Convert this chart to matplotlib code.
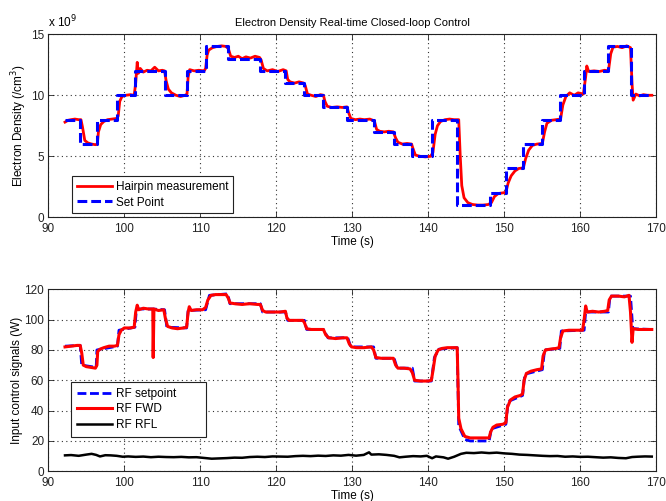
import matplotlib
matplotlib.use("Agg")
import matplotlib.pyplot as plt

plt.rcParams['font.family'] = ['Liberation Sans', 'DejaVu Sans']

# ---- Electron density (units of 1e9 /cm^3) ----
setpoint_t = [92.2, 94.2, 94.2, 96.4, 96.4, 99.1, 99.1, 101.4, 101.4, 105.3, 105.3, 108.2, 108.2,
              110.7, 110.7, 113.6, 113.6, 117.9, 117.9, 121.2, 121.2, 123.7, 123.7, 126.2, 126.2,
              129.3, 129.3, 132.8, 132.8, 135.5, 135.5, 137.8, 137.8, 140.5, 140.5, 143.8, 143.8,
              148.1, 148.1, 150.2, 150.2, 152.4, 152.4, 155.0, 155.0, 157.3, 157.3, 160.5, 160.5,
              163.7, 163.7, 166.7, 166.7, 169.4]
setpoint_v = [8, 8, 6, 6, 8, 8, 10, 10, 12, 12, 10, 10, 12,
              12, 14, 14, 13, 13, 12, 12, 11, 11, 10, 10, 9,
              9, 8, 8, 7, 7, 6, 6, 5, 5, 8, 8, 1,
              1, 2, 2, 4, 4, 6, 6, 8, 8, 10, 10, 12,
              12, 14, 14, 10, 10]

hairpin_t = [92.2, 92.6, 93.0, 93.5, 94.0, 94.3, 94.5, 94.8, 95.2, 95.7, 96.2, 96.45, 96.6, 96.9,
             97.3, 97.8, 98.4, 99.0, 99.2, 99.4, 99.7, 100.2, 100.8, 101.3, 101.5, 101.7, 101.85,
             102.1, 102.5, 103.0, 103.5, 104.0, 104.5, 105.0, 105.3, 105.5, 105.8, 106.2, 106.8,
             107.4, 108.0, 108.25, 108.4, 108.6, 109.2, 109.8, 110.5, 110.7, 110.9, 111.1, 111.6,
             112.2, 112.8, 113.4, 113.7, 114.0, 114.5, 115.0, 115.5, 116.0, 116.6, 117.2, 117.8,
             118.0, 118.3, 118.8, 119.5, 120.2, 120.9, 121.3, 121.5, 121.8, 122.4, 123.0, 123.6,
             123.8, 124.1, 124.6, 125.2, 125.8, 126.2, 126.4, 126.7, 127.3, 128.0, 128.7, 129.3,
             129.5, 129.8, 130.4, 131.0, 131.6, 132.3, 132.9, 133.2, 133.6, 134.2, 134.8, 135.4,
             135.7, 136.0, 136.6, 137.2, 137.8, 138.0, 138.3, 138.9, 139.6, 140.3, 140.6, 140.9,
             141.2, 141.6, 142.2, 142.8, 143.4, 144.0, 144.2, 144.4, 144.7, 145.2, 145.8, 146.5,
             147.2, 147.9, 148.3, 148.7, 149.2, 149.8, 150.2, 150.5, 150.9, 151.4, 151.9, 152.5,
             152.8, 153.2, 153.7, 154.3, 155.0, 155.3, 155.6, 156.2, 156.8, 157.4, 157.7, 158.1,
             158.6, 159.2, 159.7, 160.4, 160.7, 160.85, 161.1, 161.8, 162.5, 163.2, 163.7, 164.0,
             164.3, 164.9, 165.5, 166.1, 166.6, 166.8, 166.95, 167.3, 167.8, 168.3, 168.8, 169.4]
hairpin_v = [7.8, 7.95, 8.0, 8.05, 8.0, 8.0, 7.4, 6.3, 6.1, 6.0, 5.95, 6.0, 7.0, 7.6,
             7.85, 8.0, 8.05, 8.1, 8.3, 9.5, 9.9, 10.0, 10.05, 10.0, 11.0, 12.7, 11.8,
             12.2, 11.9, 12.05, 12.0, 12.3, 12.0, 12.05, 12.0, 11.2, 10.5, 10.2, 10.0,
             9.9, 10.0, 10.1, 11.5, 12.1, 12.0, 12.05, 12.0, 12.2, 13.3, 13.7, 13.9,
             14.0, 14.05, 14.0, 13.8, 13.2, 13.1, 13.2, 13.0, 13.15, 13.05, 13.2, 13.1,
             12.9, 12.2, 12.0, 12.1, 11.95, 12.1, 12.0, 11.3, 11.1, 11.0, 11.1, 11.0,
             10.8, 10.1, 10.0, 9.9, 10.05, 10.0, 9.5, 9.1, 9.0, 9.05, 9.0, 9.05,
             8.6, 8.1, 8.0, 8.05, 8.0, 8.05, 7.9, 7.2, 7.05, 7.0, 7.05, 7.0,
             6.5, 6.15, 6.0, 6.05, 6.0, 5.6, 5.1, 5.0, 4.95, 5.0, 5.3, 6.8,
             7.5, 7.85, 8.0, 8.05, 8.0, 8.0, 5.0, 2.6, 1.6, 1.2, 1.05, 1.0,
             1.0, 1.05, 1.2, 1.7, 1.95, 2.0, 2.05, 2.8, 3.4, 3.8, 4.0, 4.05,
             4.8, 5.5, 5.9, 6.0, 6.05, 7.0, 7.7, 7.95, 8.0, 8.05, 9.2, 9.9,
             10.2, 10.0, 10.2, 10.1, 11.5, 12.4, 11.95, 12.0, 11.95, 12.05, 12.0, 13.4,
             13.95, 14.0, 13.9, 14.05, 13.9, 11.0, 9.6, 10.1, 9.95, 10.05, 10.0, 10.0]

# ---- RF input signals (W) ----
rf_set_t = [92.2, 94.2, 94.4, 96.3, 96.4, 99.1, 99.3, 101.4, 101.6, 103.7, 105.3, 105.6, 108.2,
            108.4, 110.7, 111.2, 113.6, 113.9, 117.9, 118.2, 121.2, 121.5, 123.7, 124.0, 126.2,
            126.8, 129.4, 129.8, 132.8, 133.1, 135.5, 135.9, 137.9, 138.2, 140.4, 140.8, 141.4,
            143.8, 144.0, 144.8, 145.5, 148.0, 148.3, 150.2, 150.5, 152.4, 152.7, 155.0, 155.3,
            157.3, 157.5, 160.5, 160.7, 163.7, 163.9, 166.6, 166.9, 169.4]
rf_set_v = [82.5, 83, 70, 68.5, 80, 82.5, 93, 95, 107, 107, 106.5, 95, 94.5,
            106, 106.5, 116, 117, 110.5, 110.5, 105, 105, 99.5, 99.5, 93.5, 93.5,
            88, 88, 82, 82, 74.5, 74.5, 68, 68, 59.5, 59.5, 75, 80.5,
            81.5, 30, 21, 20, 20, 28, 31, 46, 50, 64, 67, 80,
            81, 92.5, 93, 105, 105, 115.5, 115.5, 94, 93.5]

rf_fwd_t = [92.2, 93.0, 93.8, 94.2, 94.4, 94.6, 95.0, 95.6, 96.2, 96.4, 96.5, 96.8, 97.3, 98.0,
            98.7, 99.1, 99.3, 99.6, 100.0, 100.8, 101.3, 101.5, 101.7, 101.9, 102.5, 103.2,
            103.75, 103.8, 103.9, 104.5, 105.2, 105.4, 105.7, 106.3, 107.0, 107.8, 108.2, 108.4,
            108.55, 108.8, 109.5, 110.3, 110.7, 111.0, 111.4, 112.0, 112.8, 113.4, 113.7, 113.9,
            114.5, 115.5, 116.5, 117.5, 117.9, 118.2, 118.6, 119.5, 120.5, 121.2, 121.4, 121.7,
            122.5, 123.5, 123.7, 124.0, 124.6, 125.5, 126.2, 126.5, 126.9, 127.8, 128.7, 129.3,
            129.6, 129.9, 130.6, 131.5, 132.5, 132.8, 133.1, 133.8, 134.7, 135.4, 135.7, 136.0,
            136.8, 137.6, 137.9, 138.2, 139.0, 140.0, 140.4, 140.6, 140.9, 141.3, 141.8, 142.5,
            143.2, 143.8, 143.9, 144.0, 144.3, 144.8, 145.5, 146.5, 147.5, 148.0, 148.2, 148.5,
            149.0, 149.8, 150.2, 150.4, 150.8, 151.4, 152.1, 152.4, 152.6, 152.9, 153.5, 154.3,
            154.9, 155.1, 155.4, 156.0, 156.8, 157.2, 157.4, 157.7, 158.5, 159.3, 160.3, 160.5,
            160.7, 160.9, 161.6, 162.4, 163.2, 163.6, 163.8, 164.1, 165.0, 165.8, 166.4, 166.6,
            166.8, 166.95, 167.6, 168.4, 169.4]
rf_fwd_v = [82, 82.5, 83, 83, 78, 70, 69, 68.5, 68, 70, 79, 80.5, 81.5, 82.5,
            82.5, 83, 90, 93, 94.5, 94.5, 95, 105, 109.5, 106.5, 107.5, 107,
            107, 75, 107, 106, 106.5, 101, 95.5, 94.5, 94, 94.5, 95, 105,
            108.5, 106, 106.5, 106.5, 108, 113, 116, 116.5, 116.5, 116.5, 114, 111,
            110.5, 110, 110.5, 110, 110, 106, 105, 105, 105, 105.5, 101, 99.5,
            99.5, 99.5, 98, 94, 93.5, 93.5, 93.5, 90, 88, 87.5, 88, 88,
            84, 82, 81.5, 81.5, 82, 80, 75, 74.5, 74.5, 74.5, 70, 68,
            68, 67.5, 65, 60, 59.5, 59.5, 60, 66, 76, 80, 81, 81.5,
            81.5, 81.5, 60, 35, 28, 23, 22, 22, 22, 22, 26, 29,
            30.5, 31, 32, 42, 47, 49, 50, 51, 60, 64.5, 66, 67,
            67.5, 76, 80, 80.5, 81, 81.5, 88, 92.5, 93, 93, 93, 100,
            109, 105, 105.5, 105, 105.5, 106, 113, 115.5, 115.5, 115, 116, 105,
            85, 94, 93.5, 93.5, 93.5]

rf_rfl_t = [92.2, 93.0, 94.0, 95.0, 95.7, 96.3, 96.8, 97.5, 98.2, 99.0, 99.8, 100.5, 101.5,
            102.5, 103.5, 104.5, 105.5, 106.5, 107.5, 108.5, 109.5, 110.5, 111.5, 112.5, 113.5,
            114.5, 115.5, 116.5, 117.5, 118.5, 119.5, 120.5, 121.5, 122.5, 123.5, 124.5, 125.5,
            126.5, 127.5, 128.5, 129.5, 130.5, 131.5, 132.2, 132.5, 133.5, 134.5, 135.5, 136.2,
            137.0, 138.0, 139.0, 139.8, 140.5, 141.0, 142.0, 142.6, 143.4, 144.3, 145.0, 146.0,
            147.0, 148.0, 149.0, 150.0, 151.0, 152.0, 153.0, 154.0, 155.0, 156.0, 157.0, 158.0,
            159.0, 160.0, 161.0, 162.0, 163.0, 164.0, 165.0, 166.0, 166.8, 167.5, 168.5, 169.4]
rf_rfl_v = [10.5, 10.7, 10.2, 11.0, 11.5, 10.8, 9.8, 10.6, 10.5, 10.2, 9.6, 9.8, 9.5,
            9.7, 9.3, 9.6, 9.4, 9.3, 9.5, 9.2, 9.3, 8.8, 8.3, 8.5, 8.7,
            9.0, 8.9, 9.4, 9.6, 9.4, 9.8, 9.7, 9.6, 10.0, 10.2, 10.0, 10.3,
            10.1, 10.5, 10.3, 10.8, 10.3, 10.8, 12.5, 11.0, 11.2, 10.8, 10.2, 9.2,
            9.6, 10.0, 9.8, 10.2, 8.6, 9.8, 9.2, 8.3, 9.6, 11.5, 12.2, 12.0,
            12.4, 12.0, 12.3, 11.8, 11.5, 11.0, 10.8, 10.5, 10.2, 10.0, 10.1, 9.6,
            9.8, 9.5, 9.6, 9.3, 9.0, 9.2, 8.8, 8.6, 9.4, 9.6, 9.8, 9.7]

FS = 8.5
fig = plt.figure(figsize=(6.66, 5.01), dpi=100)
ax1 = fig.add_axes([0.0725, 0.5663, 0.913, 0.3653])
ax2 = fig.add_axes([0.0725, 0.0593, 0.913, 0.3633])


def style(ax):
    ax.set_xlim(90, 170)
    ax.grid(True, linestyle=(0, (1, 3)), color='#333333', linewidth=0.8)
    ax.tick_params(direction='in', top=True, right=True, labelsize=FS,
                   length=4, width=0.6, colors='#222222')
    ax.tick_params(axis='x', pad=4)
    ax.tick_params(axis='y', pad=3)
    for s in ax.spines.values():
        s.set_linewidth(0.8)
        s.set_color('#222222')


ax1.plot(hairpin_t, hairpin_v, color='#ff0000', lw=2.0, label='Hairpin measurement', zorder=3)
ax1.plot(setpoint_t, setpoint_v, color='#0000ff', lw=2.2, ls=(0, (3.2, 1.3)), label='Set Point', zorder=4)
style(ax1)
ax1.set_ylim(0, 15)
ax1.set_yticks([0, 5, 10, 15])
ax1.set_xticks(range(90, 171, 10))
ax1.set_title('Electron Density Real-time Closed-loop Control', fontsize=8, pad=6)
ax1.set_xlabel('Time (s)', fontsize=FS, labelpad=1)
ax1.set_ylabel('Electron Density (/cm$^3$)', fontsize=FS, labelpad=1)
ax1.text(0.0, 1.02, 'x 10$^9$', transform=ax1.transAxes, fontsize=FS, ha='left', va='bottom')
leg1 = ax1.legend(loc='lower left', bbox_to_anchor=(0.039, 0.022), borderaxespad=0, fontsize=FS,
                  fancybox=False, edgecolor='#222222', framealpha=1, handlelength=3.0,
                  borderpad=0.4, labelspacing=0.3, handletextpad=0.3)
leg1.get_frame().set_linewidth(0.8)

ax2.plot(rf_set_t, rf_set_v, color='#0000ff', lw=2.0, ls=(0, (3.2, 1.3)), label='RF setpoint', zorder=3)
ax2.plot(rf_fwd_t, rf_fwd_v, color='#ff0000', lw=2.2, label='RF FWD', zorder=4)
ax2.plot(rf_rfl_t, rf_rfl_v, color='#000000', lw=1.8, label='RF RFL', zorder=4)
style(ax2)
ax2.set_ylim(0, 120)
ax2.set_yticks(range(0, 121, 20))
ax2.set_xticks(range(90, 171, 10))
ax2.set_xlabel('Time (s)', fontsize=FS, labelpad=1)
ax2.set_ylabel('Input control signals (W)', fontsize=FS, labelpad=1)
leg2 = ax2.legend(loc='lower left', bbox_to_anchor=(0.037, 0.19, 0.222, 0.29), mode='expand',
                  borderaxespad=0, fontsize=FS,
                  fancybox=False, edgecolor='#222222', framealpha=1, handlelength=3.0,
                  borderpad=0.5, labelspacing=0.3, handletextpad=0.3)
leg2.get_frame().set_linewidth(0.8)

fig.savefig('out.png', dpi=100)
